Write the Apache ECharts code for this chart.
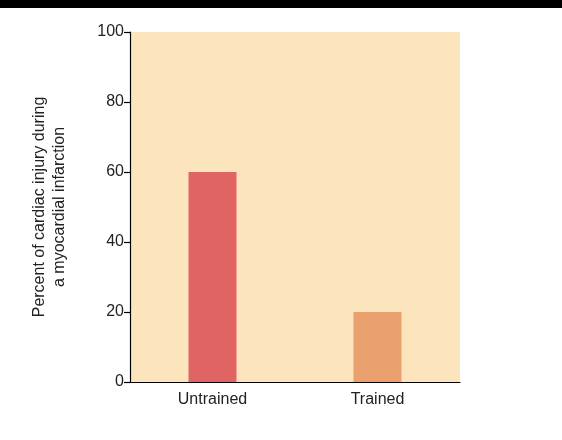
<!DOCTYPE html>
<html>
<head>
<meta charset="utf-8">
<script src="https://cdn.jsdelivr.net/npm/echarts@6/dist/echarts.min.js"></script>
<style>html,body{margin:0;padding:0;background:#fff}#main{width:562px;height:440px}</style>
</head>
<body>
<div id="main"></div>
<script>
var categories = ['Untrained', 'Trained'];
var injury = [60, 20];
var barColors = ['#E06464', '#EBA070'];

var chart = echarts.init(document.getElementById('main'));

var option = {
  animation: false,
  grid: { left: 130, right: 102, top: 32, bottom: 58, show: true, backgroundColor: '#FCE5BD', borderWidth: 0 },
  graphic: [{ type: 'rect', shape: { x: 0, y: 0, width: 562, height: 8 }, style: { fill: '#000' } }],
  xAxis: {
    type: 'category',
    data: categories,
    axisLine: { lineStyle: { color: '#000', width: 1.2 } },
    axisTick: { length: 6, lineStyle: { color: '#000', width: 1.2 } },
    axisLabel: { color: '#222', fontSize: 16, fontFamily: 'Liberation Sans', margin: 10 }
  },
  yAxis: {
    type: 'value',
    min: 0, max: 100, interval: 20,
    name: 'Percent of cardiac injury during\na myocardial infarction',
    nameLocation: 'middle',
    nameGap: 60,
    nameTextStyle: { color: '#222', fontSize: 16, fontFamily: 'Liberation Sans', lineHeight: 20 },
    splitLine: { show: false },
    axisLine: { show: true, lineStyle: { color: '#000', width: 1.2 } },
    axisTick: { show: true, length: 6, lineStyle: { color: '#000', width: 1.2 } },
    axisLabel: { color: '#222', fontSize: 16, fontFamily: 'Liberation Sans', margin: 6 }
  },
  series: [{
    type: 'bar',
    barWidth: 48,
    data: injury.map(function (v, i) { return { value: v, itemStyle: { color: barColors[i] } }; })
  }]
};

chart.setOption(option);
</script>
</body>
</html>
